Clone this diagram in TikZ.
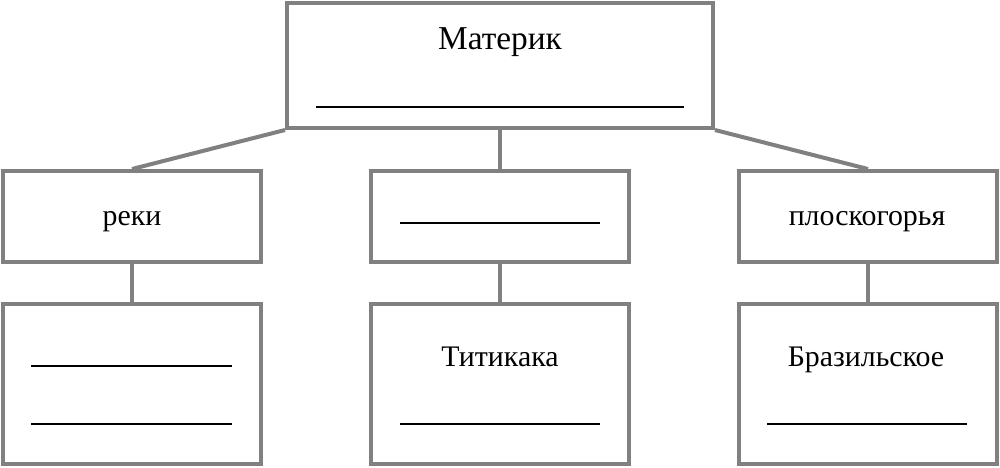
\documentclass[tikz,border=0pt]{standalone}
\usepackage{fontspec}
\setmainfont{Liberation Serif}
\definecolor{boxgray}{HTML}{808080}
\begin{document}
\begin{tikzpicture}[x=0.02cm,y=-0.02cm]
\tikzstyle{box}=[draw=boxgray,line width=0.08cm,shape=rectangle,inner sep=0pt]
\tikzstyle{link}=[draw=boxgray,line width=0.08cm]
\tikzstyle{label}=[anchor=base,inner sep=0pt,font=\fontsize{17}{20}\selectfont]
\tikzstyle{blank}=[line width=0.03cm]
\useasboundingbox (0,0) rectangle (1000,467);
\path (500,65.5) node[box,minimum width=8.52cm,minimum height=2.5cm](mat){}
 (132,216.5) node[box,minimum width=5.16cm,minimum height=1.82cm](reki){}
 (500,216.5) node[box,minimum width=5.16cm,minimum height=1.82cm](ozera){}
 (868,216.5) node[box,minimum width=5.16cm,minimum height=1.82cm](plosk){}
 (132,384) node[box,minimum width=5.16cm,minimum height=3.2cm](rekiN){}
 (500,384) node[box,minimum width=5.16cm,minimum height=3.2cm](ozeraN){}
 (868,384) node[box,minimum width=5.16cm,minimum height=3.2cm](ploskN){};
\draw[link] (mat.south west) -- (reki.north);
\draw[link] (mat.south) -- (ozera.north);
\draw[link] (mat.south east) -- (plosk.north);
\draw[link] (reki) -- (rekiN);
\draw[link] (ozera) -- (ozeraN);
\draw[link] (plosk) -- (ploskN);
% texts
\node[label,font=\fontsize{19}{22}\selectfont] (matT) at (500,49) {Материк};
\node[label] (rekiT) at (132,225) {реки};
\node[label] (ploskT) at (867,225) {плоскогорья};
\node[label] (titT) at (500,366) {Титикака};
\node[label] (brazT) at (866,366) {Бразильское};
% blanks
\draw[blank] (316,107) -- (684,107);
\draw[blank] (400,223) -- (600,223);
\draw[blank] (31,366) -- (232,366);
\draw[blank] (31,424) -- (232,424);
\draw[blank] (400,424) -- (600,424);
\draw[blank] (767,424) -- (967,424);
\end{tikzpicture}
\end{document}
